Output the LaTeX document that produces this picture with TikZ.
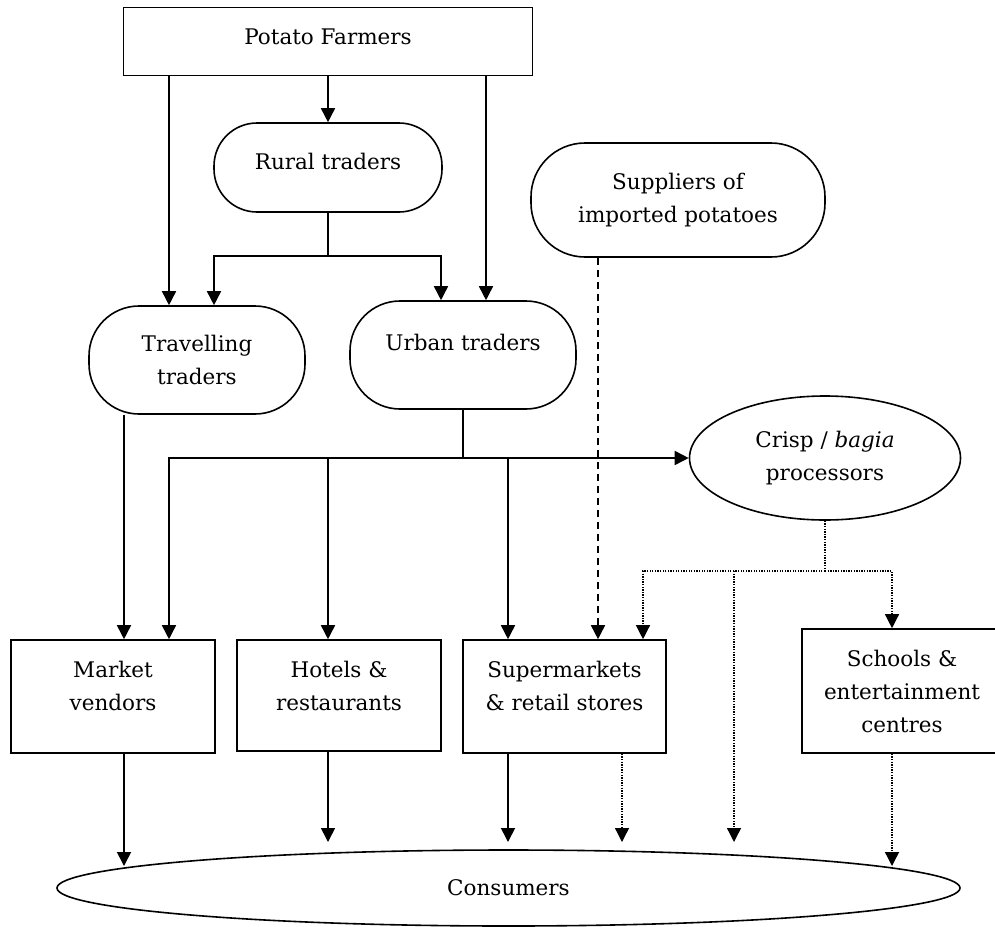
\documentclass[tikz,border=0pt]{standalone}
\usepackage{fontspec}
\setmainfont{DejaVu Serif}
\usetikzlibrary{arrows.meta,shapes.geometric}

\def\chainfont{\fontsize{21.5pt}{33pt}\selectfont}
\newcommand{\pushup}[1]{\rule[-#1]{0pt}{#1}}

\begin{document}
\begin{tikzpicture}[x=1pt,y=-1pt,line width=1.6pt,>={Triangle[length=14pt,width=14pt]}]
	\tikzstyle{every node}=[font=\chainfont,inner sep=0pt,align=center]
	\tikzstyle{box}=[draw,rectangle]
	\tikzstyle{trader}=[box,rounded corners=40pt]
	\tikzstyle{oval}=[draw,ellipse]
	\tikzstyle{import}=[->,dash pattern=on 7pt off 5pt]
	\tikzstyle{snack}=[line width=1.3pt,dash pattern=on 1.3pt off 1.3pt]

	\useasboundingbox (0,0) rectangle (995,926);

	% Columns and rows used by the connectors
	\coordinate (colA) at (124,0);
	\coordinate (colB) at (169,0);
	\coordinate (colC) at (214,0);
	\coordinate (colD) at (328,0);
	\coordinate (colE) at (441,0);
	\coordinate (colF) at (486,0);
	\coordinate (colH) at (508,0);
	\coordinate (colI) at (598,0);
	\coordinate (colJ) at (622,0);
	\coordinate (colK) at (643,0);
	\coordinate (colL) at (734,0);
	\coordinate (colN) at (892,0);
	\coordinate (tipline) at (0,842);
	\coordinate (tiprim) at (0,866);

	% Draw the supply side nodes
	\node[box, minimum width=409, minimum height=68] (farmers) at (328,41.5) {Potato Farmers\pushup{10pt}};
	\node[trader, rounded corners=43pt, minimum width=228, minimum height=89] (rural) at (328,167.5) {Rural traders\pushup{12pt}};
	\node[trader, rounded corners=54pt, minimum width=294, minimum height=114] (suppliers) at (678,200) {Suppliers of\\imported potatoes};
	\node[trader, rounded corners=50pt, minimum width=216, minimum height=108] (travel) at (197,360) {Travelling\\traders};
	\node[trader, rounded corners=50pt, minimum width=226, minimum height=108] (urban) at (463,355) {Urban traders\pushup{26pt}};
	\node[oval, minimum width=271, minimum height=124] (crisp) at (825,458) {Crisp / \textit{bagia}\\processors};

	% Draw the outlet nodes
	\node[box, minimum width=204, minimum height=113] (market) at (113,696.5) {Market\\vendors\pushup{22pt}};
	\node[box, minimum width=204, minimum height=111] (hotels) at (339,695.5) {Hotels \&\\restaurants\pushup{20pt}};
	\node[box, minimum width=203, minimum height=113] (super) at (564.5,696.5) {Supermarkets\\\& retail stores\pushup{22pt}};
	\node[box, minimum width=200, minimum height=124] (schools) at (902,691) {Schools \&\\entertainment\\centres};

	% Draw the consumers node
	\node[oval, minimum width=903, minimum height=76] (consumers) at (508.5,888) {Consumers};

	% Junctions
	\coordinate (rj) at (328,256);
	\coordinate (uj) at (463,458);
	\coordinate (cj) at (825,571);

	% Connect the farmers with the traders
	\path (farmers) edge[->] (rural);
	\draw[->] (farmers.south -| colB) -- (travel.north -| colB);
	\draw[->] (farmers.south -| colF) -- (urban.north -| colF);
	\draw (rural) -- (rj);
	\draw[->] (rj) -| (travel.north -| colC);
	\draw[->] (rj) -| (urban.north -| colE);

	% Connect the traders with the outlets
	\draw[->] (travel.south -| colA) -- (market.north -| colA);
	\draw (urban) -- (uj);
	\draw[->] (uj) -- (crisp);
	\draw[->] (uj) -| (market.north -| colB);
	\draw[->] (uj -| colD) -- (hotels.north -| colD);
	\draw[->] (uj -| colH) -- (super.north -| colH);
	\draw[import] (suppliers.south -| colI) -- (super.north -| colI);

	% Connect the crisp processors
	\draw[snack] (crisp) -- (cj);
	\draw[snack,->] (cj) -| (super.north -| colK);
	\draw[snack,->] (cj) -| (schools.north -| colN);
	\draw[snack,->] (cj -| colL) -- (tipline -| colL);

	% Connect the outlets with the consumers
	\draw[->] (market.south -| colA) -- (tiprim -| colA);
	\draw[->] (hotels.south -| colD) -- (tipline -| colD);
	\draw[->] (super.south -| colH) -- (tipline -| colH);
	\draw[snack,->] (super.south -| colJ) -- (tipline -| colJ);
	\draw[snack,->] (schools.south -| colN) -- (tiprim -| colN);

\end{tikzpicture}
\end{document}
